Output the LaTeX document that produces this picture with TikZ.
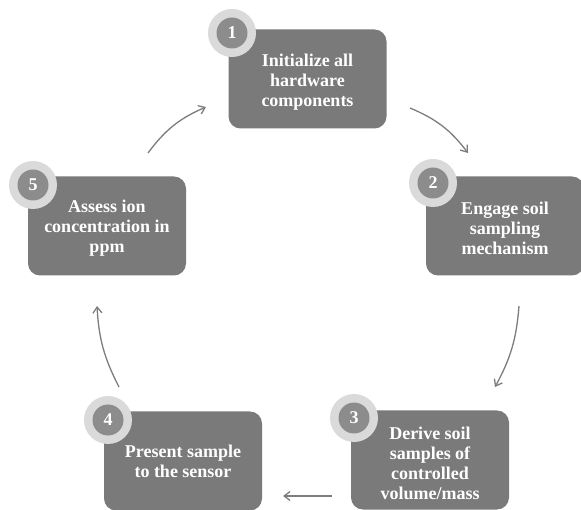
\documentclass[tikz,border=0pt]{standalone}
\usepackage{fontspec}
\setmainfont{Liberation Serif}
\usetikzlibrary{arrows.meta}
\definecolor{boxgray}{RGB}{122,122,122}
\definecolor{ringgray}{RGB}{218,218,218}
\definecolor{dotgray}{RGB}{140,140,140}
\definecolor{arrgray}{RGB}{125,125,125}
\begin{document}
\begin{tikzpicture}[x=1pt,y=-1pt,
  stepbox/.style={draw=none,fill=boxgray,rounded corners=12pt,minimum width=158pt,minimum height=99pt,inner sep=0pt},
  steptext/.style={align=center,text=white,font=\bfseries\fontsize{18}{20}\selectfont,inner sep=0pt},
  ring/.style={circle,fill=ringgray,minimum size=48pt,inner sep=0pt},
  dot/.style={circle,fill=dotgray,minimum size=31pt,inner sep=0pt,text=white,font=\bfseries\fontsize{18}{18}\selectfont},
  flow/.style={draw=arrgray,line width=1.3pt,-{Straight Barb[length=6pt,width=9pt]}}]
\useasboundingbox (0,0) rectangle (581,510);
\fill[white] (0,0) rectangle (581,510);
% boxes
\node[stepbox] (b1) at (307.5,79) {};
\node[steptext] (t1) at (307.5,82) {Initialize all\\hardware\\components};
\node[stepbox] (b2) at (505,226) {};
\node[steptext] (t2) at (505,228) {Engage soil\\sampling\\mechanism};
\node[stepbox] (b3) at (430,460) {};
\node[steptext] (t3) at (430,463) {Derive soil\\samples of\\controlled\\volume/mass};
\node[stepbox] (b4) at (183,461) {};
\node[steptext] (t4) at (183,461) {Present sample\\to the sensor};
\node[stepbox] (b5) at (107,226) {};
\node[steptext] (t5) at (107,228) {Assess ion\\concentration in\\ppm};
% number badges
\node[ring] (r1) at (232,33) {};
\node[dot] (n1) at (r1) {1};
\node[ring] (r2) at (433,183) {};
\node[dot] (n2) at (r2) {2};
\node[ring] (r3) at (354,418) {};
\node[dot] (n3) at (r3) {3};
\node[ring] (r4) at (108,420) {};
\node[dot] (n4) at (r4) {4};
\node[ring] (r5) at (33,185) {};
\node[dot] (n5) at (r5) {5};
% arrow end points
\coordinate (a1s) at (410,108);
\coordinate (a1e) at (468,153);
\coordinate (a2s) at (519,306);
\coordinate (a2e) at (495,387);
\coordinate (a3s) at (332,496);
\coordinate (a3e) at (283,496);
\coordinate (a4s) at (119,387);
\coordinate (a4e) at (97,306);
\coordinate (a5s) at (148,153);
\coordinate (a5e) at (206,107);
\draw[flow] (a1s) to[bend left=15] (a1e);
\draw[flow] (a2s) to[bend left=12] (a2e);
\draw[flow] (a3s) -- (a3e);
\draw[flow] (a4s) to[bend left=12] (a4e);
\draw[flow] (a5s) to[bend left=15] (a5e);
\end{tikzpicture}
\end{document}
